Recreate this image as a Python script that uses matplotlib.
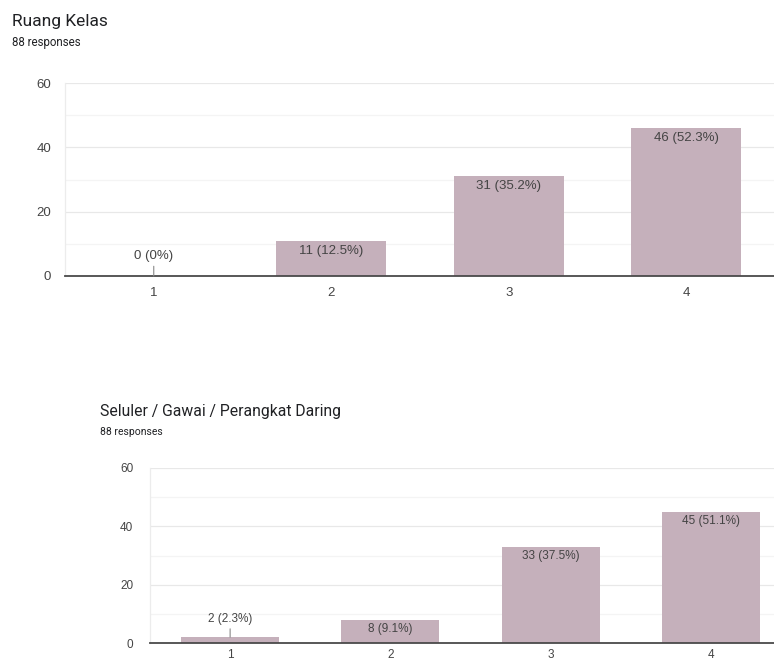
import matplotlib
matplotlib.use("Agg")
import matplotlib.pyplot as plt
from matplotlib.ticker import MultipleLocator

plt.rcParams['font.family'] = ['Roboto', 'DejaVu Sans']

categories = ["1", "2", "3", "4"]
title1 = "Ruang Kelas"
values1 = [0, 11, 31, 46]
pct1 = ["0%", "12.5%", "35.2%", "52.3%"]
title2 = "Seluler / Gawai / Perangkat Daring"
values2 = [2, 8, 33, 45]
pct2 = ["2.3%", "9.1%", "37.5%", "51.1%"]
subtitle = "88 responses"

BAR = "#c5b0bb"
TXT = "#444444"
CHART_FONT = ['Liberation Sans', 'DejaVu Sans']

fig = plt.figure(figsize=(7.74, 6.6), dpi=100)


def draw(ax, vals, pcts, fs_tick, fs_lab, width, inside_off, above_off, xpad, ypad):
    x = range(len(categories))
    ax.bar(x, vals, width=width, color=BAR, zorder=2)
    ax.set_xlim(-0.5, len(categories) - 0.5)
    ax.set_ylim(0, 60)
    ax.yaxis.set_major_locator(MultipleLocator(20))
    ax.yaxis.set_minor_locator(MultipleLocator(10))
    ax.grid(axis='y', which='major', color='#e8e8e8', lw=0.9, zorder=0)
    ax.grid(axis='y', which='minor', color='#f4f4f4', lw=0.9, zorder=0)
    for s in ['top', 'right']:
        ax.spines[s].set_visible(False)
    ax.spines['left'].set_color('#ececec')
    ax.spines['left'].set_linewidth(0.9)
    ax.spines['bottom'].set_color('#4a4a4a')
    ax.spines['bottom'].set_linewidth(1.3)
    ax.spines['bottom'].set_zorder(3)
    ax.set_xticks(list(x))
    ax.set_xticklabels(categories, fontfamily=CHART_FONT)
    ax.tick_params(axis='x', length=0, pad=xpad, labelsize=fs_tick, labelcolor=TXT)
    ax.tick_params(axis='y', which='both', length=0, pad=ypad, labelsize=fs_tick, labelcolor=TXT)
    for i, (v, p) in enumerate(zip(vals, pcts)):
        lab = f"{v} ({p})"
        if v >= 6:
            ax.annotate(lab, (i, v), xytext=(0, -inside_off), textcoords='offset points',
                        ha='center', va='top', fontsize=fs_lab, color=TXT, zorder=4,
                        family=CHART_FONT)
        else:
            ax.annotate(lab, (i, v), xytext=(0, above_off), textcoords='offset points',
                        ha='center', va='bottom', fontsize=fs_lab, color=TXT, zorder=4,
                        family=CHART_FONT,
                        arrowprops=dict(arrowstyle='-', color='#888888', lw=0.8,
                                        shrinkA=1, shrinkB=0))
    ax.set_yticks([0, 20, 40, 60])
    ax.set_yticklabels(["0", "20", "40", "60"], fontfamily=CHART_FONT)


ax1 = fig.add_axes([65 / 774, 1 - 276 / 660, 710 / 774, 193 / 660])
draw(ax1, values1, pct1, 9.5, 9.5, 0.62, 3, 10, 8, 10)
fig.text(12 / 774, 1 - 26 / 660, title1, fontsize=12.5, color='#202124', va='baseline')
fig.text(12 / 774, 1 - 46 / 660, subtitle, fontsize=8.3, color='#202124', va='baseline')

ax2 = fig.add_axes([150 / 774, 1 - 643 / 660, 641 / 774, 175 / 660])
draw(ax2, values2, pct2, 8.5, 8.5, 0.61, 2.5, 9, 4.5, 12)
fig.text(100 / 774, 1 - 416 / 660, title2, fontsize=11.3, color='#202124', va='baseline')
fig.text(100 / 774, 1 - 435 / 660, subtitle, fontsize=7.5, color='#202124', va='baseline')

fig.savefig("out.png", dpi=100)
